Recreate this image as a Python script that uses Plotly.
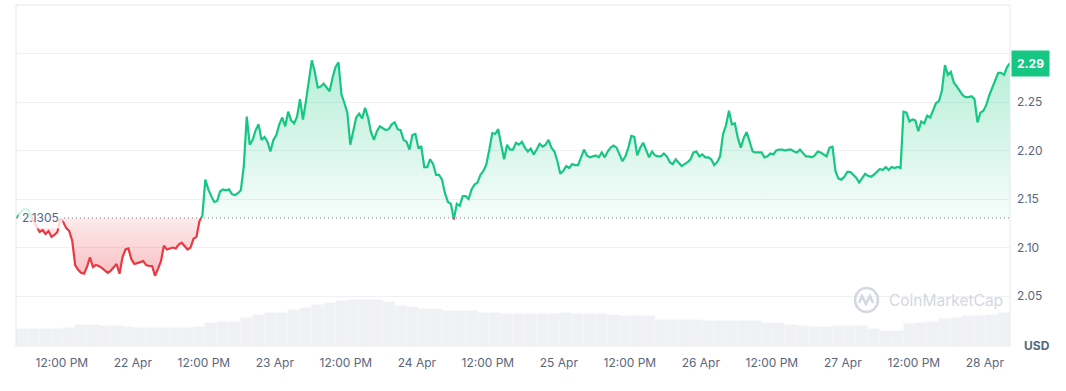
import pandas as pd
import plotly.graph_objects as go

# ---------------- data ----------------
start_time = "2025-04-21 04:15"
base_price = 2.1305
last_price = 2.29

prices = [
    2.130, 2.134, 2.138, 2.140, 2.139, 2.133, 2.127, 2.121, 2.116, 2.118,
    2.114, 2.117, 2.111, 2.113, 2.116, 2.130, 2.126, 2.120, 2.117, 2.107,
    2.082, 2.077, 2.074, 2.073, 2.080, 2.090, 2.080, 2.082, 2.081, 2.079,
    2.076, 2.074, 2.076, 2.080, 2.083, 2.073, 2.090, 2.098, 2.099, 2.088,
    2.083, 2.084, 2.085, 2.086, 2.082, 2.081, 2.081, 2.071, 2.078, 2.086,
    2.102, 2.098, 2.099, 2.100, 2.099, 2.103, 2.105, 2.101, 2.098, 2.100,
    2.109, 2.111, 2.127, 2.133, 2.170, 2.160, 2.153, 2.147, 2.148, 2.158,
    2.160, 2.159, 2.160, 2.155, 2.154, 2.156, 2.159, 2.184, 2.235, 2.206,
    2.211, 2.221, 2.227, 2.211, 2.214, 2.209, 2.199, 2.211, 2.216, 2.227,
    2.234, 2.225, 2.240, 2.231, 2.228, 2.235, 2.253, 2.232, 2.251, 2.271,
    2.293, 2.281, 2.265, 2.266, 2.269, 2.265, 2.261, 2.275, 2.286, 2.291,
    2.258, 2.249, 2.239, 2.206, 2.219, 2.234, 2.238, 2.233, 2.244, 2.234,
    2.219, 2.211, 2.220, 2.225, 2.223, 2.221, 2.222, 2.227, 2.229, 2.222,
    2.221, 2.211, 2.209, 2.201, 2.216, 2.217, 2.203, 2.204, 2.183, 2.183,
    2.191, 2.186, 2.175, 2.175, 2.170, 2.156, 2.147, 2.145, 2.129, 2.145,
    2.143, 2.153, 2.153, 2.150, 2.160, 2.165, 2.167, 2.175, 2.179, 2.186,
    2.201, 2.218, 2.217, 2.222, 2.206, 2.191, 2.206, 2.201, 2.201, 2.208,
    2.206, 2.209, 2.203, 2.199, 2.202, 2.196, 2.201, 2.207, 2.204, 2.206,
    2.211, 2.203, 2.199, 2.189, 2.176, 2.179, 2.184, 2.182, 2.186, 2.185,
    2.185, 2.194, 2.201, 2.195, 2.193, 2.194, 2.195, 2.193, 2.198, 2.193,
    2.199, 2.203, 2.205, 2.203, 2.196, 2.189, 2.194, 2.203, 2.215, 2.214,
    2.195, 2.203, 2.208, 2.201, 2.193, 2.199, 2.195, 2.194, 2.194, 2.197,
    2.194, 2.188, 2.186, 2.191, 2.188, 2.184, 2.186, 2.188, 2.191, 2.198,
    2.199, 2.194, 2.196, 2.193, 2.193, 2.191, 2.185, 2.188, 2.194, 2.217,
    2.226, 2.241, 2.227, 2.228, 2.213, 2.203, 2.213, 2.219, 2.209, 2.199,
    2.198, 2.198, 2.198, 2.193, 2.194, 2.197, 2.196, 2.200, 2.201, 2.201,
    2.200, 2.201, 2.201, 2.199, 2.198, 2.201, 2.198, 2.194, 2.194, 2.193,
    2.195, 2.199, 2.198, 2.196, 2.194, 2.203, 2.204, 2.179, 2.171, 2.170,
    2.173, 2.178, 2.178, 2.175, 2.172, 2.167, 2.172, 2.176, 2.174, 2.173,
    2.175, 2.178, 2.181, 2.180, 2.183, 2.180, 2.183, 2.182, 2.183, 2.182,
    2.240, 2.239, 2.230, 2.232, 2.231, 2.220, 2.230, 2.228, 2.236, 2.234,
    2.242, 2.249, 2.251, 2.262, 2.288, 2.278, 2.281, 2.270, 2.266, 2.261,
    2.257, 2.255, 2.255, 2.256, 2.253, 2.229, 2.239, 2.241, 2.247, 2.257,
    2.265, 2.274, 2.280, 2.280, 2.278, 2.286, 2.290,
]

# 24h volume (billion USD), one value per 2 hours
volumes = [
    1.8, 1.8, 1.8, 1.8, 1.9, 2.2, 2.2, 2.1, 2.1, 2.0,
    1.9, 1.9, 1.9, 1.9, 1.9, 2.0, 2.4, 2.5, 2.5, 2.9,
    3.2, 3.4, 3.4, 3.7, 3.9, 4.2, 4.4, 4.6, 4.7, 4.7,
    4.7, 4.5, 4.1, 4.0, 3.8, 3.8, 3.6, 3.6, 3.6, 3.4,
    3.4, 3.3, 3.3, 3.3, 3.3, 3.3, 3.4, 3.3, 3.3, 3.3,
    3.2, 3.1, 3.1, 3.1, 2.7, 2.7, 2.7, 2.7, 2.6, 2.6,
    2.6, 2.6, 2.6, 2.4, 2.4, 2.2, 2.1, 2.0, 2.0, 2.1,
    2.1, 2.1, 1.8, 1.6, 1.6, 2.3, 2.4, 2.5, 2.8, 2.9,
    3.1, 3.1, 3.2, 3.4,
]

x_tick_dates = [
    "2025-04-21 12:00", "2025-04-22 00:00", "2025-04-22 12:00", "2025-04-23 00:00",
    "2025-04-23 12:00", "2025-04-24 00:00", "2025-04-24 12:00", "2025-04-25 00:00",
    "2025-04-25 12:00", "2025-04-26 00:00", "2025-04-26 12:00", "2025-04-27 00:00",
    "2025-04-27 12:00", "2025-04-28 00:00",
]
x_tick_text = [
    "12:00 PM", "22 Apr", "12:00 PM", "23 Apr", "12:00 PM", "24 Apr", "12:00 PM",
    "25 Apr", "12:00 PM", "26 Apr", "12:00 PM", "27 Apr", "12:00 PM", "28 Apr",
]
y_tick_vals = [2.05, 2.10, 2.15, 2.20, 2.25, 2.30]
y_tick_text = ["2.05", "2.10", "2.15", "2.20", "2.25", ""]

# ---------------- styling ----------------
GREEN = "#16c784"
RED = "#ea3943"
TEXT = "#58667e"
GRID = "#eff1f4"
FONT = "Inter, sans-serif"

times = pd.date_range(start_time, periods=len(prices), freq="30min")
vol_times = pd.date_range(pd.Timestamp(start_time) + pd.Timedelta("1h"),
                          periods=len(volumes), freq="2h")

# insert baseline crossings so that colours switch exactly at the baseline
xs, ys = [], []
for k, p in enumerate(prices):
    if k > 0:
        p0 = prices[k - 1]
        if (p0 - base_price) * (p - base_price) < 0:
            f = (base_price - p0) / (p - p0)
            xs.append(times[k - 1] + (times[k] - times[k - 1]) * f)
            ys.append(base_price)
    xs.append(times[k])
    ys.append(p)

up_fill = [max(v, base_price) for v in ys]
dn_fill = [min(v, base_price) for v in ys]
up_line = [v if v >= base_price else None for v in ys]
dn_line = [v if v <= base_price else None for v in ys]
base_arr = [base_price] * len(ys)

fig = go.Figure()

fig.add_trace(go.Bar(
    x=vol_times, y=volumes, yaxis="y2",
    marker=dict(color="#eff1f5", line=dict(width=0.6, color="#f6f7f9")),
    width=2 * 3600 * 1000, hoverinfo="skip", showlegend=False,
))

fig.add_trace(go.Scatter(x=xs, y=base_arr, mode="lines", line=dict(width=0),
                         hoverinfo="skip", showlegend=False))
fig.add_trace(go.Scatter(
    x=xs, y=up_fill, mode="lines", line=dict(width=0), fill="tonexty",
    fillgradient=dict(type="vertical", start=base_price, stop=2.30,
                      colorscale=[[0, "rgba(22,199,132,0.04)"], [1, "rgba(22,199,132,0.32)"]]),
    hoverinfo="skip", showlegend=False,
))
fig.add_trace(go.Scatter(x=xs, y=base_arr, mode="lines", line=dict(width=0),
                         hoverinfo="skip", showlegend=False))
fig.add_trace(go.Scatter(
    x=xs, y=dn_fill, mode="lines", line=dict(width=0), fill="tonexty",
    fillgradient=dict(type="vertical", start=base_price, stop=2.07,
                      colorscale=[[0, "rgba(234,57,67,0.10)"], [1, "rgba(234,57,67,0.32)"]]),
    hoverinfo="skip", showlegend=False,
))
fig.add_trace(go.Scatter(x=xs, y=up_line, mode="lines",
                         line=dict(color=GREEN, width=2.2), connectgaps=False, showlegend=False))
fig.add_trace(go.Scatter(x=xs, y=dn_line, mode="lines",
                         line=dict(color=RED, width=2.2), connectgaps=False, showlegend=False))

shapes = [
    dict(type="line", xref="paper", yref="y", x0=0, x1=1, y0=base_price, y1=base_price,
         line=dict(color="#7d8595", width=1, dash="1px,3px")),
    dict(type="line", xref="paper", yref="paper", x0=0, x1=0, y0=0, y1=1,
         line=dict(color="#e6e8eb", width=1)),
    dict(type="line", xref="paper", yref="paper", x0=1, x1=1, y0=0, y1=1,
         line=dict(color="#e6e8eb", width=1)),
    dict(type="line", xref="paper", yref="paper", x0=0, x1=1, y0=1, y1=1,
         line=dict(color="#e6e8eb", width=1)),
    # watermark logo
    dict(type="circle", xref="paper", yref="paper", x0=0.8441, x1=0.8672, y0=0.1023, y1=0.1725,
         line=dict(color="#d3d8e1", width=2.5)),
    dict(type="path", xref="paper", yref="paper",
         path="M 0.8481 0.1287 L 0.8511 0.1491 L 0.8551 0.1257 L 0.8592 0.1491 L 0.8622 0.1287",
         line=dict(color="#d3d8e1", width=2.5)),
]

annotations = [
    dict(xref="paper", yref="y", x=0, y=base_price, xanchor="left", yanchor="middle",
         xshift=2, text="2.1305", showarrow=False,
         font=dict(family=FONT, size=12, color=TEXT),
         bgcolor="rgba(255,255,255,0.8)", borderpad=3),
    dict(xref="paper", yref="y", x=1, y=last_price, xanchor="left", yanchor="middle",
         xshift=1, text="<b>2.29</b>", showarrow=False,
         font=dict(family=FONT, size=12, color="white"),
         bgcolor=GREEN, borderpad=5),
    dict(xref="paper", yref="paper", x=1, y=0.005, xanchor="left", yanchor="middle",
         xshift=12, text="<b>USD</b>", showarrow=False,
         font=dict(family=FONT, size=12, color=TEXT)),
    dict(xref="paper", yref="paper", x=0.8763, y=0.137, xanchor="left", yanchor="middle",
         text="CoinMarketCap", showarrow=False,
         font=dict(family=FONT, size=15.5, color="#d3d8e1")),
]

fig.update_layout(
    width=1066, height=391,
    margin=dict(l=16, r=56, t=5, b=44),
    paper_bgcolor="white", plot_bgcolor="white",
    font=dict(family=FONT, size=12, color=TEXT),
    showlegend=False, hovermode=False, bargap=0,
    xaxis=dict(range=[times[0], times[-1]], tickvals=pd.to_datetime(x_tick_dates),
               ticktext=x_tick_text, showgrid=False, zeroline=False, showline=False,
               ticks="", ticklabelstandoff=7, tickfont=dict(size=12, color=TEXT, family=FONT)),
    yaxis=dict(side="right", range=[1.9975, 2.35], tickvals=y_tick_vals, ticktext=y_tick_text,
               showgrid=True, gridcolor=GRID, gridwidth=1, zeroline=False, showline=False,
               ticks="", ticklabelstandoff=6, tickfont=dict(size=12, color=TEXT, family=FONT)),
    yaxis2=dict(overlaying="y", range=[0, 34.2], visible=False, showgrid=False),
    shapes=shapes, annotations=annotations,
)

fig.write_html("out.html", config={"displayModeBar": False},
               post_script="document.body.style.margin='0';")
